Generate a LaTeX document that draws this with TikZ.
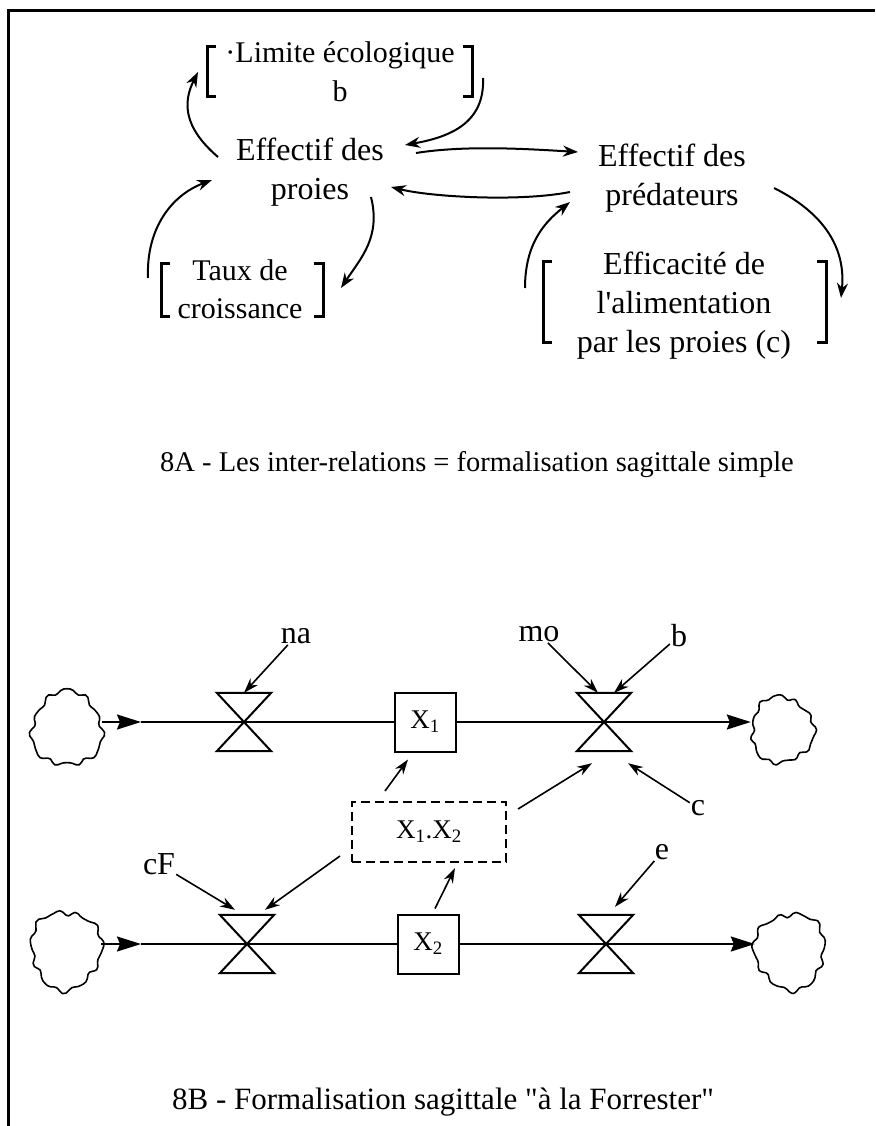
\documentclass[tikz,border=0pt]{standalone}
\usepackage{fontspec}
\setmainfont{Liberation Serif}
\usetikzlibrary{arrows.meta}
\newcommand{\bracketpair}[4]{%
  \draw[brk] (#1+9,#3)--(#1,#3)--(#1,#4)--(#1+9,#4);
  \draw[brk] (#2-9,#3)--(#2,#3)--(#2,#4)--(#2-9,#4);}
\tikzset{
  txt/.style={align=center,inner sep=0pt,font=\fontsize{32}{39}\selectfont},
  brk/.style={line width=3pt},
  arr/.style={-{Stealth[length=15pt,width=11pt]},line width=2pt},
  infl/.style={-{Stealth[length=15pt,width=10pt]},line width=1.6pt},
  flow/.style={line width=2pt},
  flowarr/.style={flow,-{Stealth[length=24pt,width=15pt,inset=3pt]}},
  stock/.style={draw,line width=2pt,minimum width=61pt,minimum height=59pt,inner sep=0pt,font=\fontsize{27}{29}\selectfont},
  valve/.style={minimum width=54pt,minimum height=58pt,inner sep=0pt},
  puff/.style={inner sep=0pt,minimum width=70pt,minimum height=74pt},
  tag/.style={inner sep=1pt,font=\fontsize{32}{34}\selectfont},
  capt/.style={font=\fontsize{28.5}{30}\selectfont}
}
\begin{document}
\begin{tikzpicture}[x=1pt,y=-1pt]
\useasboundingbox (0,0) rectangle (875,1126);
\draw[line width=3pt] (875,11)--(8,11)--(8,1126);
% 8A
\node[txt,font=\fontsize{30}{39}\selectfont] (lim) at (340,72) {\textperiodcentered Limite écologique\\b};
\node[txt] (proies) at (310,172) {Effectif des\\proies};
\node[txt] (pred) at (672,178) {Effectif des\\prédateurs};
\node[txt,font=\fontsize{30}{38}\selectfont] (taux) at (240,289) {Taux de\\croissance};
\node[txt] (eff) at (684,306) {Efficacité de\\l\textquotesingle alimentation\\par les proies (c)};
\bracketpair{207}{472}{47}{97}
\bracketpair{161}{323}{263}{316}
\bracketpair{543}{826}{261}{342}
\draw[arr] ([shift={(-92,-15)}]proies.center) .. controls +(-35,-30) and +(-15,30) .. ([shift={(-142,0)}]lim.center);
\draw[arr] ([shift={(143,6)}]lim.center) .. controls +(2,45) and +(45,-8) .. ([shift={(95,-27)}]proies.center);
\draw[arr] ([shift={(106,-19)}]proies.center) .. controls +(50,-8) and +(-50,-3) .. ([shift={(-94,-26)}]pred.center);
\draw[arr] ([shift={(-102,14)}]pred.center) .. controls +(-50,10) and +(40,10) .. ([shift={(81,15)}]proies.center);
\draw[arr] ([shift={(61,25)}]proies.center) .. controls +(10,40) and +(20,-30) .. ([shift={(101,-1)}]taux.center);
\draw[arr] ([shift={(-92,-11)}]taux.center) .. controls +(-2,-50) and +(-40,15) .. ([shift={(-98,8)}]proies.center);
\draw[arr] ([shift={(-159,-18)}]eff.center) .. controls +(0,-45) and +(-25,20) .. ([shift={(-102,24)}]pred.center);
\draw[arr] ([shift={(102,10)}]pred.center) .. controls +(50,25) and +(5,-50) .. ([shift={(157,-8)}]eff.center);
\node[capt] (capA) at (477,465) {8A - Les inter-relations = formalisation sagittale simple};
% 8B
\node[puff] (s1) at (67,729) {};
\node[valve] (v1) at (244,722) {};
\node[stock] (x1) at (425,722) {X\textsubscript{1}};
\node[valve] (v2) at (604,722) {};
\node[puff,minimum width=62pt,minimum height=66pt] (k1) at (782,730) {};
\node[puff,minimum height=78pt] (s2) at (66,950) {};
\node[valve] (v3) at (247,944) {};
\node[stock] (x2) at (428,944) {X\textsubscript{2}};
\node[valve] (v4) at (606,944) {};
\node[puff,minimum height=76pt] (k2) at (790,951) {};
\node[stock,dash pattern=on 9pt off 5pt,minimum width=154pt,minimum height=60pt] (prod) at (429,832) {X\textsubscript{1}.X\textsubscript{2}};
\foreach \n/\rx/\ry/\ph in {s1/35/37/0,k1/31/33/70,s2/35/39/150,k2/35/38/220}
  \draw[line width=1.6pt,shift={(\n.center)}] plot[smooth cycle,domain=0:355,samples=72]
    ({\rx*cos(\x)*(1+0.05*sin(11*\x+\ph)+0.02*sin(17*\x+2*\ph)+0.06*sin(3*\x+\ph))},
     {\ry*sin(\x)*(1+0.05*sin(11*\x+\ph)+0.02*sin(17*\x+2*\ph)+0.06*sin(3*\x+\ph))});
\foreach \v in {v1,v2,v3,v4}
  \draw[flow] (\v.north west)--(\v.north east)--(\v.south west)--(\v.south east)--cycle;
\coordinate (t1) at (141,722);
\coordinate (t2) at (141,944);
\draw[flowarr] (s1.east |- v1.center)--(t1);
\draw[flow] (t1)--(x1);
\draw[flowarr] (x1)--(k1.west |- v2.center);
\draw[flowarr] (s2.east |- v3.center)--(t2);
\draw[flow] (t2)--(x2);
\draw[flowarr] (x2)--(k2.west |- v4.center);
\node[tag] (na) at (296,636) {na};
\node[tag] (mo) at (539,634) {mo};
\node[tag] (b) at (679,636) {b};
\node[tag] (c) at (698,808) {c};
\node[tag] (cF) at (159,864) {cF};
\node[tag] (e) at (662,852) {e};
\draw[infl] (na)--(v1.north);
\draw[infl] (mo)--([xshift=-6pt]v2.north);
\draw[infl] (b)--([xshift=10pt]v2.north);
\draw[infl] (c)--([shift={(24,12)}]v2.south);
\draw[infl] ([shift={(-44,-10)}]prod.north)--([shift={(-17,7)}]x1.south);
\draw[infl] ([shift={(11,8)}]prod.north east)--([shift={(-12,12)}]v2.south);
\draw[infl] (cF)--([shift={(-12,-5)}]v3.north);
\draw[infl] ([shift={(-11,-7)}]prod.south west)--([shift={(18,-5)}]v3.north);
\draw[infl] ([shift={(7,-5)}]x2.north)--([shift={(26,5)}]prod.south);
\draw[infl] (e)--([shift={(9,-8)}]v4.north);
\node[capt,font=\fontsize{31}{33}\selectfont] (capB) at (443,1102) {8B - Formalisation sagittale \textquotedbl à la Forrester\textquotedbl};
\end{tikzpicture}
\end{document}
